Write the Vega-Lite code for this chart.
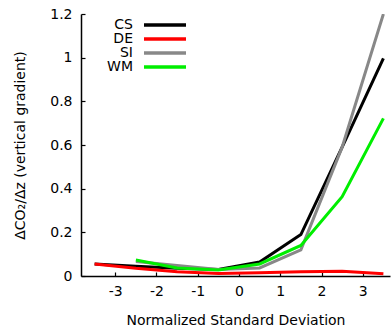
{
  "$schema": "https://vega.github.io/schema/vega-lite/v6.json",
  "autosize": {"type": "none"},
  "padding": {"left": 81, "top": 14, "right": 1, "bottom": 50},
  "width": 309,
  "height": 262,
  "background": "white",
  "config": {
    "view": {"stroke": null},
    "font": "DejaVu Sans",
    "axis": {"grid": false, "domainColor": "black", "domainWidth": 1.5, "tickColor": "black", "tickWidth": 1.2, "labelColor": "black", "titleColor": "black", "labelFont": "DejaVu Sans", "titleFont": "DejaVu Sans", "labelFontSize": 14, "titleFontSize": 14, "titleFontWeight": "normal"}
  },
  "data": {"values": [
    {"x": -3.5, "y": 0.055, "s": "CS"},
    {"x": -2.5, "y": 0.045, "s": "CS"},
    {"x": -1.5, "y": 0.035, "s": "CS"},
    {"x": -0.5, "y": 0.03, "s": "CS"},
    {"x": 0.5, "y": 0.064, "s": "CS"},
    {"x": 1.5, "y": 0.19, "s": "CS"},
    {"x": 2.5, "y": 0.59, "s": "CS"},
    {"x": 3.5, "y": 0.997, "s": "CS"},
    {"x": -2.5, "y": 0.066, "s": "SI"},
    {"x": -1.5, "y": 0.048, "s": "SI"},
    {"x": -0.5, "y": 0.03, "s": "SI"},
    {"x": 0.5, "y": 0.037, "s": "SI"},
    {"x": 1.5, "y": 0.12, "s": "SI"},
    {"x": 2.5, "y": 0.59, "s": "SI"},
    {"x": 3.5, "y": 1.2, "s": "SI"},
    {"x": -2.5, "y": 0.073, "s": "WM"},
    {"x": -1.5, "y": 0.037, "s": "WM"},
    {"x": -0.5, "y": 0.027, "s": "WM"},
    {"x": 0.5, "y": 0.055, "s": "WM"},
    {"x": 1.5, "y": 0.14, "s": "WM"},
    {"x": 2.5, "y": 0.363, "s": "WM"},
    {"x": 3.5, "y": 0.722, "s": "WM"},
    {"x": -3.5, "y": 0.055, "s": "DE"},
    {"x": -2.5, "y": 0.035, "s": "DE"},
    {"x": -1.5, "y": 0.02, "s": "DE"},
    {"x": -0.5, "y": 0.012, "s": "DE"},
    {"x": 0.5, "y": 0.015, "s": "DE"},
    {"x": 1.5, "y": 0.02, "s": "DE"},
    {"x": 2.5, "y": 0.022, "s": "DE"},
    {"x": 3.5, "y": 0.01, "s": "DE"}
  ]},
  "mark": {"type": "line", "strokeWidth": 3, "clip": true},
  "encoding": {
    "x": {"field": "x", "type": "quantitative", "scale": {"domain": [-3.83, 3.66], "nice": false, "zero": false},
      "axis": {"values": [-3, -2, -1, 0, 1, 2, 3], "labelExpr": "datum.value < 0 ? '-' + abs(datum.value) : '' + datum.value", "title": "Normalized Standard Deviation", "tickSize": -4, "labelPadding": 12, "titlePadding": 15}},
    "y": {"field": "y", "type": "quantitative", "scale": {"domain": [0, 1.2], "nice": false},
      "axis": {"values": [0, 0.2, 0.4, 0.6, 0.8, 1, 1.2], "format": "~g", "title": "ΔCO₂/Δz (vertical gradient)", "tickSize": -4, "labelPadding": 13, "titlePadding": 22}},
    "color": {"field": "s", "type": "nominal",
      "scale": {"domain": ["CS", "DE", "SI", "WM"], "range": ["#000000", "#ff0000", "#888888", "#00ee00"]},
      "legend": {"title": null, "orient": "none", "legendX": 77, "legendY": 4, "symbolType": "M-5.25,0H5.25", "symbolSize": 64, "symbolStrokeWidth": 3.5, "labelAlign": "right", "labelOffset": -39, "labelFontSize": 14, "labelFont": "DejaVu Sans", "labelColor": "black", "rowPadding": 0}},
    "order": {"field": "s"}
  }
}
